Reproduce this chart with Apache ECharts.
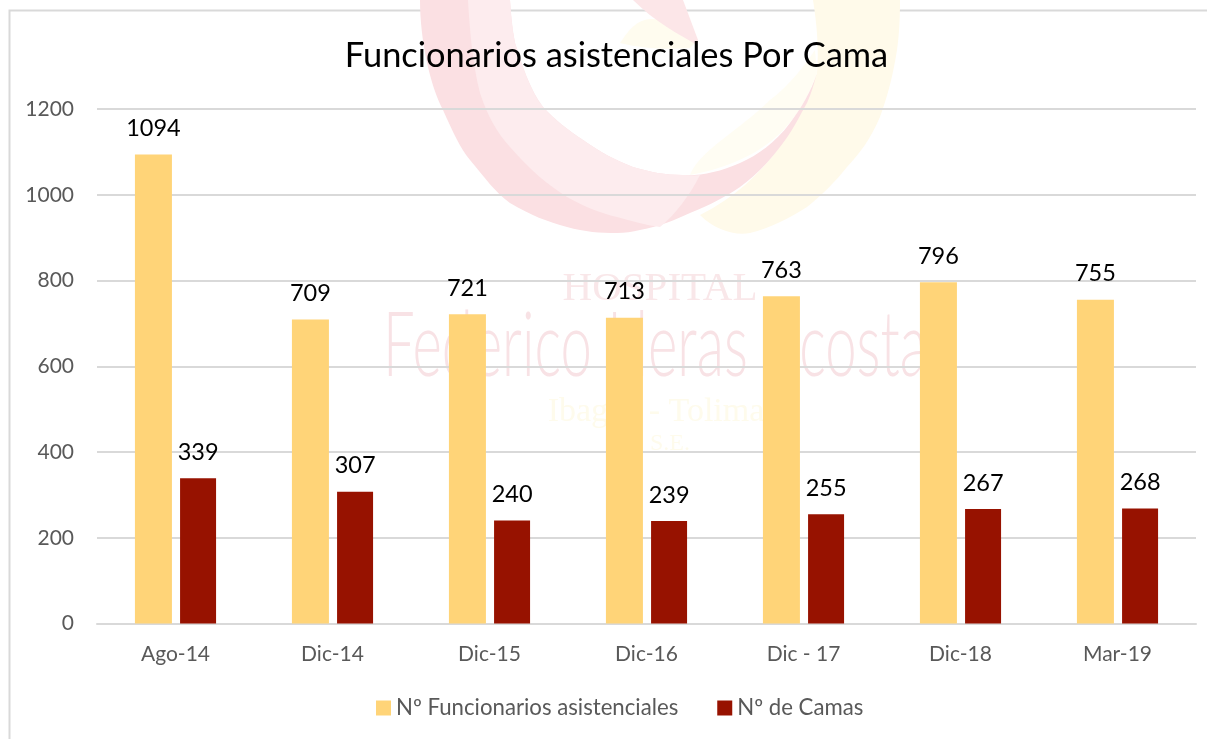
<!DOCTYPE html>
<html><head><meta charset="utf-8">
<style>html,body{margin:0;padding:0;background:#fff}#c{width:1207px;height:739px}</style>
<script src="https://cdn.jsdelivr.net/npm/echarts@6/dist/echarts.min.js"></script>
</head><body><div id="c"></div>
<script>
const chartTitle = 'Funcionarios asistenciales Por Cama';
const categories = ['Ago-14','Dic-14','Dic-15','Dic-16','Dic - 17','Dic-18','Mar-19'];
const seriesNames = ['Nº Funcionarios asistenciales','Nº de Camas'];
const funcionarios = [1094,709,721,713,763,796,755];
const camas = [339,307,240,239,255,267,268];
const FONT = 'Lato, "Open Sans", sans-serif';
const wm = (o)=>Object.assign({z:-1,silent:true},o);
const innerEdge = 'C812 90 800 110 790 123 C775 143 758 155 740 163 C720 172 700 176 683 175 C665 175 650 172 633 167 C615 160 600 152 583 140 C568 130 555 120 543 107 C530 90 522 65 515 43 C512 28 511 15 510 0 Z';
const logoPaths = {
  wmYellow:'M813 0 L900 0 C900 20 899 35 897 50 C893 75 888 95 880 117 C870 140 860 153 847 167 C835 182 822 195 807 207 C790 218 770 228 750 233 C735 236 715 230 700 215 C770 180 800 120 817 73 C819 50 817 25 813 0 Z',
  wmPale:'M690 175 C700 150 740 130 770 100 C790 85 805 65 815 50 L817 73 C800 120 770 160 690 175 Z',
  wmTopYellow:'M620 43 C630 28 640 15 660 20 L698 40 L690 48 C665 50 640 48 620 43 Z',
  wmCrescent:'M420 0 C420 40 430 85 443 110 C452 130 460 148 470 160 C485 178 495 192 510 203 C530 215 548 222 567 227 C585 232 600 233 617 233 C625 233 632 232 640 230 C660 226 675 220 690 213 C710 205 725 197 740 187 C760 172 772 158 783 143 C795 127 800 115 807 103 C812 92 815 80 817 73 ' + innerEdge,
  wmLight:'M468 0 C470 35 473 65 480 93 C487 115 497 133 510 147 C530 170 548 185 567 197 C585 207 600 213 617 217 C632 221 645 225 660 227 C675 215 690 195 700 175 C694 176 689 175 683 175 C665 175 650 172 633 167 C615 160 600 152 583 140 C568 130 555 120 543 107 C530 90 522 65 515 43 C512 28 511 15 510 0 Z',
  wmTip:'M633 0 L683 0 L698 40 L697 45 C680 35 655 22 633 0 Z'
};
Object.keys(logoPaths).forEach(k=>echarts.graphic.registerShape(k,echarts.graphic.extendPath(logoPaths[k],{})));
const chart = echarts.init(document.getElementById('c'),null,{renderer:'canvas'});
chart.setOption({
  animation:false,
  backgroundColor:'#ffffff',
  textStyle:{fontFamily:FONT},
  title:{text:chartTitle,left:611.5,top:34,textAlign:'center',
    textStyle:{fontFamily:FONT,fontSize:34.4,fontWeight:400,color:'#000'}},
  grid:{left:97,right:11,top:109,bottom:115.5,containLabel:false},
  xAxis:{type:'category',data:categories,
    axisLine:{lineStyle:{color:'#d9d9d9',width:2}},axisTick:{show:false},
    axisLabel:{color:'#595959',fontSize:21,margin:20,fontFamily:FONT}},
  yAxis:{type:'value',min:0,max:1200,interval:200,
    axisLine:{show:false},axisTick:{show:false},
    splitLine:{lineStyle:{color:'#d9d9d9',width:2}},
    axisLabel:{color:'#595959',fontSize:21,margin:23,fontFamily:FONT,formatter:(v)=>String(v)}},
  legend:{left:371,top:692,itemWidth:15,itemHeight:15,itemGap:39,
    icon:'rect',
    textStyle:{color:'#595959',fontSize:22.2,fontFamily:FONT,padding:[0,0,0,0]},
    data:seriesNames},
  series:[
    {name:seriesNames[0],type:'bar',data:funcionarios,barWidth:37,barGap:'22%',
     itemStyle:{color:'#ffd478'},
     label:{show:true,position:'top',distance:14,color:'#000',fontSize:23.5,fontFamily:FONT}},
    {name:seriesNames[1],type:'bar',data:camas,barWidth:36,
     itemStyle:{color:'#971200'},
     label:{show:true,position:'top',distance:14,color:'#000',fontSize:23.5,fontFamily:FONT}}
  ],
  graphic:{elements:[
    wm({type:'rect',shape:{x:9.5,y:10.5,width:1210,height:740},style:{fill:'none',stroke:'#d9d9d9',lineWidth:2}}),
    wm({type:'wmYellow',style:{fill:'#fffaea'}}),
    wm({type:'wmPale',style:{fill:'#fffdf3'}}),
    wm({type:'wmTopYellow',style:{fill:'#fffcef'}}),
    wm({type:'wmCrescent',style:{fill:'#fbe0e3'}}),
    wm({type:'wmLight',style:{fill:'#fdecee'}}),
    wm({type:'wmTip',style:{fill:'#fce6e8'}}),
    wm({type:'text',style:{text:'HOSPITAL',x:660,y:289,align:'center',verticalAlign:'middle',font:'400 41px "Liberation Serif", serif',fill:'#f9e7e9'}}),
    wm({type:'text',x:655,y:347,scaleX:1.125,scaleY:1.8,style:{text:'Federico Lleras Acosta',x:0,y:0,align:'center',verticalAlign:'middle',font:'300 50px Lato, sans-serif',fill:'#f8e2e5'}}),
    wm({type:'text',style:{text:'Ibagué - Tolima',x:656,y:412,align:'center',verticalAlign:'middle',font:'400 34px "Liberation Serif", serif',fill:'#fefbec'}}),
    wm({type:'text',style:{text:'S.E.',x:670,y:444,align:'center',verticalAlign:'middle',font:'400 24px "Liberation Serif", serif',fill:'#fefbec'}})
  ]}
});
</script></body></html>
